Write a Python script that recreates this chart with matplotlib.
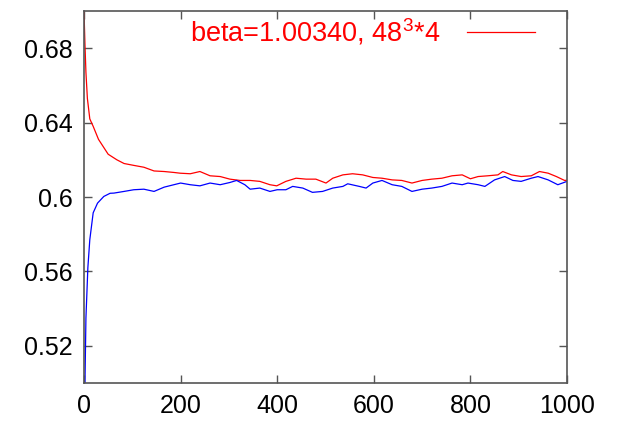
import matplotlib
matplotlib.use("Agg")
import matplotlib.pyplot as plt

red_x = [0, 2, 4, 7, 12, 19, 30, 40, 50, 62, 68, 83, 103, 124, 145, 166, 186, 199,
         220, 240, 261, 282, 302, 323, 344, 364, 385, 399, 418, 439, 460, 480, 501,
         515, 536, 556, 577, 598, 617, 638, 658, 679, 700, 720, 741, 762, 783, 800,
         816, 836, 857, 867, 885, 905, 926, 943, 961, 978, 995, 1000]
red_y = [0.700, 0.682, 0.667, 0.653, 0.642, 0.638, 0.631, 0.627, 0.623, 0.621, 0.620,
         0.618, 0.617, 0.616, 0.614, 0.6137, 0.6132, 0.6128, 0.6125, 0.6137, 0.6114,
         0.611, 0.6096, 0.6089, 0.6089, 0.6084, 0.6066, 0.606, 0.6084, 0.6101, 0.6096,
         0.6096, 0.6075, 0.6101, 0.6119, 0.6125, 0.6119, 0.6105, 0.6101, 0.6092, 0.6089,
         0.6075, 0.6089, 0.6096, 0.6101, 0.6114, 0.6119, 0.6098, 0.611, 0.6114, 0.6119,
         0.6137, 0.6119, 0.611, 0.6114, 0.6137, 0.6128, 0.611, 0.6089, 0.609]

blue_x = [0, 2, 4, 5.5, 8, 12, 19, 28, 41, 54, 62, 83, 103, 124, 145, 166, 186, 200,
          220, 240, 261, 282, 302, 316, 333, 344, 364, 385, 400, 418, 432, 453, 473,
          494, 515, 536, 546, 570, 584, 598, 617, 638, 658, 679, 700, 720, 741, 762,
          783, 795, 816, 830, 850, 871, 888, 905, 926, 940, 961, 981, 1000]
blue_y = [0.495, 0.500, 0.535, 0.545, 0.562, 0.577, 0.5915, 0.5967, 0.6003, 0.602,
          0.6021, 0.603, 0.6039, 0.6042, 0.603, 0.6053, 0.6066, 0.6075, 0.6066, 0.606,
          0.6075, 0.6066, 0.6078, 0.6089, 0.6066, 0.6042, 0.6048, 0.603, 0.6039, 0.6039,
          0.6057, 0.6048, 0.6025, 0.603, 0.6048, 0.6057, 0.6071, 0.6057, 0.6048, 0.6075,
          0.6089, 0.6066, 0.6057, 0.603, 0.6042, 0.6048, 0.6057, 0.6075, 0.6066, 0.6075,
          0.6066, 0.6057, 0.6092, 0.611, 0.6089, 0.6084, 0.6101, 0.611, 0.6092, 0.6066,
          0.6084]

x_ticks = [0, 200, 400, 600, 800, 1000]
y_ticks = [0.52, 0.56, 0.60, 0.64, 0.68]
y_tick_labels = ["0.52", "0.56", "0.6", "0.64", "0.68"]
legend_label = r"beta=1.00340, 48$^3$*4"

plt.rcParams['font.family'] = ['Liberation Sans', 'DejaVu Sans']
plt.rcParams['mathtext.fontset'] = 'custom'
plt.rcParams['mathtext.rm'] = 'Liberation Sans'

fig = plt.figure(figsize=(6.18, 4.26), dpi=100)
ax = fig.add_axes([84/618, 1-383/426, (567-84)/618, (383-11)/426])

ax.plot(red_x, red_y, color='#ff0000', lw=0.9, label=legend_label)
ax.plot(blue_x, blue_y, color='#0000ff', lw=0.9)

ax.set_xlim(0, 1000)
ax.set_ylim(0.50, 0.70)
ax.set_xticks(x_ticks)
ax.set_xticklabels([str(t) for t in x_ticks])
ax.set_yticks(y_ticks)
ax.set_yticklabels(y_tick_labels)
ax.tick_params(direction='in', length=6, width=1, labelsize=18, top=True, right=True,
               color='#555555', pad=8)
for s in ax.spines.values():
    s.set_color('#555555')
    s.set_linewidth(1.2)

leg = ax.legend(loc='upper right', bbox_to_anchor=(0.934, 0.985), frameon=False,
                markerfirst=False, fontsize=19.5, handlelength=2.5, handletextpad=1.0,
                borderaxespad=0.0, borderpad=0.0)
for t in leg.get_texts():
    t.set_color('#ff0000')

fig.savefig('out.png', dpi=100)
